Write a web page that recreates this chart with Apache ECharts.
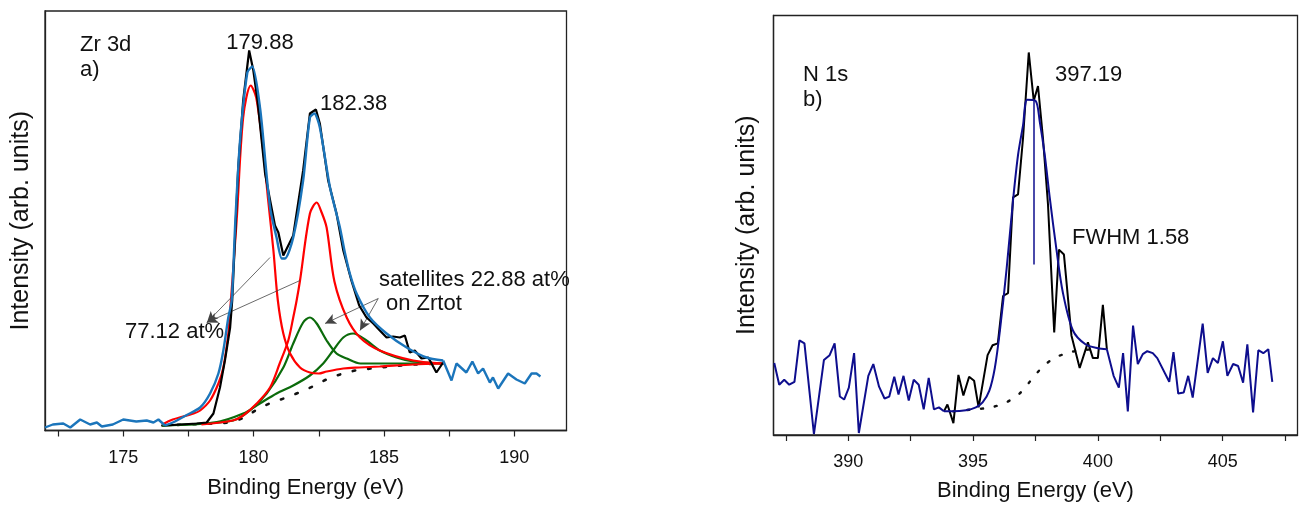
<!DOCTYPE html>
<html>
<head>
<meta charset="utf-8">
<script src="https://cdn.jsdelivr.net/npm/echarts@6/dist/echarts.min.js"></script>
<style>
html,body{margin:0;padding:0;background:#fff;}
#chart{width:1299px;height:507px;}
</style>
</head>
<body>
<div id="chart"></div>
<script>
// ---------- Panel a) Zr 3d : [binding energy (eV), intensity (arb.)] ----------
const zrTicks = [172.5,175,177.5,180,182.5,185,187.5,190];
const zrTickLabels = [175,180,185,190];
const zrNoiseLeft = [[172.0,3],[172.3,6],[172.7,7],[172.97,3],[173.35,11],[173.73,6],[173.99,8],[174.18,4],[174.6,6],[175.0,11],[175.5,9],[175.9,10],[176.16,8],[176.35,11],[176.6,5]];
const zrEnvelope = [[176.6,5],[176.9,8],[177.4,15],[177.95,23],[178.33,37],[178.65,57],[178.84,80],[179.03,113],[179.16,130],[179.3,210],[179.48,290],[179.76,358],[179.95,364],[180.25,322],[180.5,255],[180.65,220],[180.88,193],[181.08,172],[181.2,172],[181.52,193],[181.9,250],[182.16,313],[182.33,317],[182.54,303],[182.93,243],[183.31,203],[183.5,178],[183.69,157],[183.95,137],[184.46,113],[185.1,97],[185.87,83],[186.63,73],[187.27,70]];
const zrNoiseRight = [[187.27,70],[187.33,71],[187.59,50],[187.78,67],[188.16,58],[188.39,69],[188.61,57],[188.8,62],[189.06,48],[189.18,53],[189.38,42],[189.76,57],[190.08,51],[190.4,47],[190.66,57],[190.85,57],[191.0,54]];
const zrData = [[176.6,5],[177.2,6],[177.82,7],[178.2,8],[178.46,17],[178.71,43],[178.9,70],[179.1,103],[179.18,130],[179.41,263],[179.6,330],[179.83,380],[179.99,360],[180.15,330],[180.44,257],[180.56,240],[180.82,205],[180.95,198],[181.14,175],[181.52,195],[181.9,260],[182.16,317],[182.39,321],[182.54,307],[182.86,250],[183.18,217],[183.44,180],[183.75,150],[184.05,125],[184.33,113],[184.59,107],[184.84,100],[185.1,93],[185.35,94],[185.61,93],[185.8,95],[185.99,78],[186.18,80],[186.44,72],[186.7,73],[187.01,58],[187.27,68]];
const zrComp1 = [[176.5,6],[176.9,11],[177.7,17],[177.95,20],[178.33,30],[178.65,47],[178.84,63],[179.03,97],[179.13,130],[179.35,210],[179.6,313],[179.89,345],[180.1,333],[180.37,280],[180.56,230],[180.76,180],[180.93,130],[181.14,97],[181.4,77],[181.78,63],[182.16,58],[182.5,57],[182.8,59],[183.44,62],[184.05,63],[184.84,64],[186.12,66],[187.3,67]];
const zrComp2 = [[178.0,6],[179.2,10],[179.6,15],[180.12,27],[180.63,43],[181.0,67],[181.33,90],[181.52,113],[181.65,130],[181.78,150],[182.16,217],[182.42,228],[182.61,218],[182.8,203],[183.1,149],[183.57,113],[184.08,93],[184.84,80],[186.12,70],[187.27,67]];
const zrSat1 = [[176.5,5],[177.95,7],[179.22,10],[179.86,20],[180.5,37],[181.14,63],[181.52,87],[181.9,108],[182.16,113],[182.42,107],[182.8,90],[183.18,77],[183.57,72],[184.1,67],[184.84,67],[187.3,67]];
const zrSat2 = [[176.5,5],[178.5,8],[179.6,17],[180.24,27],[180.88,37],[181.52,45],[182.16,55],[182.67,67],[183.05,80],[183.44,93],[183.82,97],[184.33,90],[184.84,80],[185.48,73],[186.12,69],[187.27,67]];
const zrBackground = [[176.5,5],[178.46,7],[179.1,8],[179.67,13],[180.18,22],[180.69,28],[181.27,33],[181.84,39],[182.35,45],[182.93,53],[183.44,57],[183.89,60],[184.5,62],[185.2,64],[186.12,66],[187.14,67]];
const zrArrowsMain = [[[180.63,173],[178.21,108]],[[181.78,150],[178.21,108]]];
const zrArrowsSat = [[[184.78,132],[182.74,107]],[[184.78,132],[184.08,100]]];

// ---------- Panel b) N 1s ----------
const nTicks = [387.5,390,392.5,395,397.5,400,402.5,405,407.5];
const nTickLabels = [390,395,400,405];
const nNoiseLeft = [[387.03,73],[387.23,51],[387.43,56],[387.63,51],[387.84,54],[388.04,96],[388.24,93],[388.62,1],[389.02,76],[389.25,81],[389.45,93],[389.66,39],[389.83,36],[390.02,48],[390.23,83],[390.42,2],[390.8,60],[391.0,72],[391.23,49],[391.45,37],[391.64,39],[391.84,59],[392.01,41],[392.21,60],[392.42,35],[392.62,56],[392.82,51],[393.02,26],[393.22,58],[393.43,26],[393.63,28],[393.83,24]];
const nFit = [[393.83,24],[394.17,24],[394.71,25],[395.11,28],[395.38,33],[395.65,45],[395.87,68],[396.07,105],[396.34,168],[396.6,238],[396.8,284],[397.0,314],[397.17,340],[397.5,339],[397.67,318],[397.87,284],[398.07,241],[398.34,188],[398.6,144],[399.0,106],[399.5,92],[400.0,88],[400.36,87]];
const nNoiseRight = [[400.36,87],[400.63,60],[400.84,48],[401.01,83],[401.2,24],[401.41,111],[401.6,72],[401.8,82],[401.98,85],[402.2,83],[402.38,78],[402.86,54],[403.03,84],[403.22,42],[403.44,43],[403.62,60],[403.8,38],[404.2,113],[404.4,63],[404.61,78],[404.81,73],[405.01,95],[405.19,60],[405.42,72],[405.62,70],[405.82,53],[405.99,92],[406.22,23],[406.43,86],[406.63,83],[406.83,87],[406.99,54]];
const nData = [[393.83,24],[393.97,31],[394.21,12],[394.41,61],[394.61,40],[394.84,59],[395.04,55],[395.22,28],[395.58,81],[395.78,91],[395.99,93],[396.2,141],[396.4,144],[396.6,241],[396.8,244],[397.0,301],[397.23,388],[397.43,339],[397.6,354],[397.8,301],[398.0,234],[398.25,104],[398.44,188],[398.64,183],[398.94,101],[399.27,68],[399.6,94],[399.8,78],[400.0,78],[400.2,132],[400.36,87]];
const nBackground = [[394.2,24],[395.0,26],[395.72,28],[396.32,33],[396.86,42],[397.27,54],[397.67,66],[398.18,77],[398.75,83],[399.3,86],[400.0,87]];
const nPeakLine = [[397.41,173],[397.41,339]];

const FONT = '"Liberation Sans", Arial, sans-serif';
const chart = echarts.init(document.getElementById('chart'), null, {renderer:'canvas'});

function xAxisCfg(gi, min, max, ticks, labels, gap, margin){
  return {
    type:'value', gridIndex:gi, min:min, max:max,
    axisLine:{show:true, onZero:false, lineStyle:{color:'#222', width:1.3}},
    axisTick:{show:true, inside:false, length:6, customValues:ticks, lineStyle:{color:'#222', width:1.2}},
    axisLabel:{show:true, customValues:labels, fontSize:18, color:'#111', fontFamily:FONT, margin:margin},
    splitLine:{show:false},
    name:'Binding Energy (eV)', nameLocation:'middle', nameGap:gap,
    nameTextStyle:{fontSize:22, color:'#111', fontFamily:FONT}
  };
}
function yAxisCfg(gi, max, gap){
  return {
    type:'value', gridIndex:gi, min:0, max:max,
    axisLine:{show:true, lineStyle:{color:'#222', width:1.3}},
    axisTick:{show:false}, axisLabel:{show:false}, splitLine:{show:false},
    name:'Intensity (arb. units)', nameLocation:'middle', nameGap:gap, nameRotate:90,
    nameTextStyle:{fontSize:25, color:'#111', fontFamily:FONT}
  };
}
function line(data, xi, color, width, opts){
  return Object.assign({
    type:'line', xAxisIndex:xi, yAxisIndex:xi, data:data, showSymbol:false, symbol:'none',
    lineStyle:{color:color, width:width}, itemStyle:{color:color}, animation:false, silent:true
  }, opts||{});
}
function arrowLines(pairs){
  return {
    silent:true, animation:false, symbol:['none','arrow'], symbolSize:[8,11],
    label:{show:false}, emphasis:{disabled:true},
    lineStyle:{color:'#444', width:0.8, type:'solid'},
    data: pairs.map(p => [{coord:p[0]},{coord:p[1]}])
  };
}
function txt(x, y, s, align){
  return {type:'text', x:x, y:y, silent:true, z:100,
    style:{text:s, font:'22px ' + FONT, fill:'#111', textAlign:align||'left', align:align||'left', textVerticalAlign:'middle', verticalAlign:'middle'}};
}

const option = {
  backgroundColor:'#fff',
  animation:false,
  grid:[
    {left:45, top:11, width:521.5, height:419.5, show:true, borderColor:'#222', borderWidth:1.3, containLabel:false},
    {left:773.5, top:15.5, width:524, height:425.5, show:true, borderColor:'#222', borderWidth:1.3, containLabel:false}
  ],
  xAxis:[
    xAxisCfg(0,172,192,zrTicks,zrTickLabels,46,19),
    xAxisCfg(1,387,408,nTicks,nTickLabels,45,18)
  ],
  yAxis:[ yAxisCfg(0,419.5,11), yAxisCfg(1,425.5,14) ],
  series:[
    line(zrBackground,0,'#111',2.5,{lineStyle:{color:'#111', width:2.6, type:[2.5,13], cap:'round'}, z:2}),
    line(zrSat1,0,'#0b6b0b',2.2,{smooth:0.3, z:3}),
    line(zrSat2,0,'#0b6b0b',2.2,{smooth:0.3, z:3}),
    line(zrComp1,0,'#ff0000',2.2,{smooth:0.3, z:4}),
    line(zrComp2,0,'#ff0000',2.2,{smooth:0.3, z:4}),
    line(zrData,0,'#000000',2.2,{z:5}),
    line(zrNoiseLeft,0,'#1b75bb',2.4,{z:6}),
    line(zrEnvelope,0,'#1b75bb',2.4,{smooth:0.25, z:6, markLine:arrowLines(zrArrowsMain.concat(zrArrowsSat))}),
    line(zrNoiseRight,0,'#1b75bb',2.4,{z:6}),

    line(nBackground,1,'#111',2.2,{lineStyle:{color:'#111', width:2.4, type:[2,12], cap:'round'}, smooth:0.3, z:2}),
    line(nData,1,'#000000',2.0,{z:4}),
    line(nNoiseLeft,1,'#0e0e8e',2.0,{z:5}),
    line(nFit,1,'#0e0e8e',2.0,{smooth:0.3, z:5,
      markLine:{silent:true, animation:false, symbol:['none','none'], label:{show:false},
        lineStyle:{color:'#0e0e8e', width:1.5, type:'solid'},
        data:[[{coord:nPeakLine[0]},{coord:nPeakLine[1]}]]}}),
    line(nNoiseRight,1,'#0e0e8e',2.0,{z:5})
  ],
  graphic:[
    txt(80,44.5,'Zr 3d'),
    txt(80,69.5,'a)'),
    txt(260,43,'179.88','center'),
    txt(320,104,'182.38'),
    txt(125,332,'77.12 at%'),
    txt(379,279.5,'satellites 22.88 at%'),
    txt(386,304,'on Zrtot'),
    txt(803,75,'N 1s'),
    txt(803,100,'b)'),
    txt(1055,75,'397.19'),
    txt(1072,238,'FWHM 1.58')
  ]
};
chart.setOption(option);
</script>
</body>
</html>
